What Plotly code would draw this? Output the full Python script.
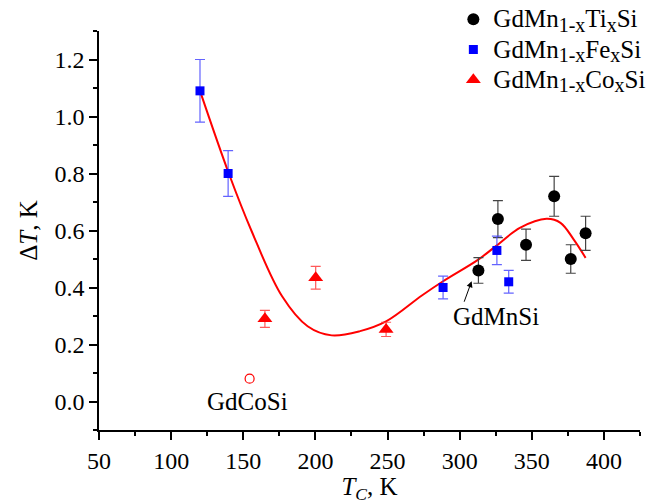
import plotly.graph_objects as go

# GdMn(1-x)Ti(x)Si
ti_tc = [313, 326.5, 346, 365.5, 377, 387.3]
ti_dt = [0.46, 0.64, 0.55, 0.72, 0.50, 0.59]
ti_err = [0.045, 0.065, 0.055, 0.07, 0.05, 0.06]

# GdMn(1-x)Fe(x)Si
fe_tc = [120, 139.5, 288.5, 325.8, 334]
fe_dt = [1.09, 0.80, 0.40, 0.53, 0.42]
fe_err = [0.11, 0.08, 0.04, 0.05, 0.04]

# GdMn(1-x)Co(x)Si
co_tc = [165, 200.2, 249]
co_dt = [0.29, 0.434, 0.253]
co_err = [0.03, 0.04, 0.025]

# GdCoSi
gdcosi_tc = [154.4]
gdcosi_dt = [0.08]

# fitted curve
fit_tc = [120, 140, 155.6, 176.8, 194.6, 211.3, 231, 249.3, 273.8, 288.5, 312.9, 325.6, 341.7, 360.2, 369.9, 379.1, 387.3]
fit_dt = [1.09, 0.80, 0.60, 0.37, 0.264, 0.232, 0.247, 0.282, 0.372, 0.422, 0.498, 0.547, 0.609, 0.641, 0.627, 0.568, 0.504]

FONT = "Liberation Serif"


def big(t):
    return "<span style='font-size:25px'>" + t + "</span>"


def sub(t):
    return "<sub><span style='font-size:20px'>" + t + "</span></sub>"


def label(metal):
    return big("GdMn") + sub("1-x") + big(metal) + sub("x") + big("Si")


fig = go.Figure()
fig.add_trace(go.Scatter(x=fit_tc, y=fit_dt, mode="lines", line=dict(color="red", width=2, shape="spline"),
                         showlegend=False, hoverinfo="skip"))
fig.add_trace(go.Scatter(x=ti_tc, y=ti_dt, mode="markers", name=label("Ti"),
                         marker=dict(symbol="circle", size=12, color="black"),
                         error_y=dict(type="data", array=ti_err, color="#444444", thickness=1.2, width=5)))
fig.add_trace(go.Scatter(x=fe_tc, y=fe_dt, mode="markers", name=label("Fe"),
                         marker=dict(symbol="square", size=9, color="blue"),
                         error_y=dict(type="data", array=fe_err, color="rgba(60,60,255,0.8)", thickness=1.2, width=5)))
fig.add_trace(go.Scatter(x=co_tc, y=co_dt, mode="markers", name=label("Co"),
                         marker=dict(symbol="triangle-up", size=13, color="red"),
                         error_y=dict(type="data", array=co_err, color="rgba(255,60,60,0.85)", thickness=1.2, width=5)))
fig.add_trace(go.Scatter(x=gdcosi_tc, y=gdcosi_dt, mode="markers", showlegend=False,
                         marker=dict(symbol="circle-open", size=9, color="red", line=dict(width=1.2))))

fig.add_annotation(x=325, y=0.298, text="GdMnSi", showarrow=False, font=dict(family=FONT, size=25, color="black"))
fig.add_annotation(x=308.3, y=0.422, ax=-8, ay=22, text="", showarrow=True, arrowhead=2, arrowsize=1.2,
                   arrowwidth=1, arrowcolor="black")
fig.add_annotation(x=153, y=0.0, text="GdCoSi", showarrow=False, font=dict(family=FONT, size=25, color="black"))

axis_common = dict(showline=True, linecolor="black", linewidth=1.5, ticks="outside", ticklen=8, tickwidth=1.5,
                   tickcolor="black", showgrid=False, zeroline=False, mirror=False, automargin=False,
                   tickfont=dict(family=FONT, size=24, color="black"))
fig.update_xaxes(range=[50, 425], dtick=50, tick0=50,
                 minor=dict(dtick=25, ticks="outside", ticklen=4, tickwidth=1.5, tickcolor="black"),
                 title=dict(text="<i>T<sub>C</sub></i>, K", font=dict(family=FONT, size=25, color="black"), standoff=4),
                 **axis_common)
fig.update_yaxes(range=[-0.1, 1.3], dtick=0.2, tick0=0, tickformat=".1f",
                 minor=dict(dtick=0.1, ticks="outside", ticklen=4, tickwidth=1.5, tickcolor="black"),
                 title=dict(text="Δ<i>T</i>, K", font=dict(family=FONT, size=25, color="black"), standoff=10),
                 **axis_common)

fig.update_layout(width=665, height=504, margin=dict(l=99, r=25, t=31, b=74, autoexpand=False),
                  plot_bgcolor="white", paper_bgcolor="white",
                  legend=dict(x=0.655, y=1.08, xanchor="left", yanchor="top", bgcolor="rgba(0,0,0,0)",
                              font=dict(family=FONT, size=21, color="black"), tracegroupgap=0, itemwidth=30))

fig.write_html("out.html")
